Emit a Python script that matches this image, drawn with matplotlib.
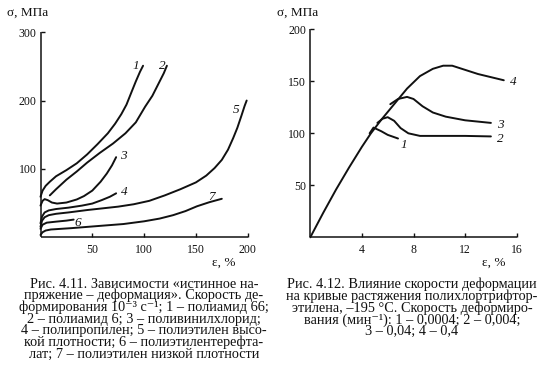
import matplotlib
matplotlib.use('Agg')
import matplotlib.pyplot as plt

plt.rcParams['font.family'] = ['Liberation Serif', 'DejaVu Serif']

# ---------------- data: Fig. 4.11 (true stress vs strain) ----------------
c1_x = [0, 2, 5, 9, 15, 25, 35, 45, 55, 65, 72, 78, 83, 88, 92, 96, 99]
c1_y = [59, 68, 75, 81, 89, 98, 108, 121, 136, 152, 166, 180, 194, 213, 228, 242, 251]
c2_x = [9, 15, 25, 35, 45, 57, 70, 82, 92, 101, 108, 114, 119, 122]
c2_y = [61, 70, 84, 96, 109, 123, 137, 152, 168, 191, 207, 225, 240, 251]
c3_x = [0, 2, 4, 7, 11, 16, 25, 35, 42, 50, 58, 64, 69, 73]
c3_y = [46, 53, 55.5, 54, 50.5, 49, 50.5, 55, 60, 68, 81, 93, 105, 117]
c4_x = [0, 1.5, 4, 8, 15, 27, 40, 50, 59, 67, 73]
c4_y = [20, 30, 36, 39, 41, 43, 46, 49, 54, 59, 64]
c5_x = [0, 1.5, 4, 8, 15, 27, 45, 60, 75, 90, 105, 120, 135, 150, 160, 168, 175, 181, 186, 190, 194, 197, 199]
c5_y = [15, 24, 29, 32, 34, 36, 39.5, 42, 44.5, 48, 53, 61, 70, 80, 90, 101, 113, 128, 145, 160, 178, 192, 200]
c6_x = [0, 2, 6, 15, 25, 32]
c6_y = [12, 18, 21, 22.5, 24, 25.5]
c7_x = [0, 2, 5, 10, 30, 59, 80, 100, 115, 128, 140, 151, 163, 175]
c7_y = [3, 7, 9.5, 11, 13, 16.5, 19, 23, 27, 32, 38, 45, 51, 56]
left_labels = ['1', '2', '3', '4', '5', '6', '7']
left_label_x = [92, 118, 79.5, 80.5, 189, 36, 165]
left_label_y = [251, 251, 119, 66.5, 186, 20.5, 58]
left_xticks = [50, 100, 150, 200]
left_yticks = [100, 200, 300]

# ---------------- data: Fig. 4.12 (strain-rate influence) ----------------
r4_x = [0, 1, 2, 3, 4, 4.7, 5.5, 6.5, 7.5, 8.5, 9.5, 10.3, 11, 12, 13, 14, 15]
r4_y = [0, 23.5, 46, 67, 87, 100, 113, 128, 143, 155, 162, 165, 165, 161, 157, 154, 151]
r1_x = [4.6, 4.9, 5.5, 6.0, 6.8]
r1_y = [100, 105.5, 102, 98.5, 95]
r2_x = [5.2, 5.6, 6.0, 6.5, 7.0, 7.6, 8.5, 10, 12, 14]
r2_y = [110, 114, 115.5, 112, 105, 100, 97.5, 97.5, 97.5, 97]
r3_x = [6.2, 6.8, 7.5, 8.0, 8.7, 9.5, 10.5, 12, 14]
r3_y = [128, 133, 135, 133, 126, 120, 116, 112.5, 110]
right_labels = ['1', '2', '3', '4']
right_label_x = [7.25, 14.7, 14.7, 15.7]
right_label_y = [88.5, 95, 108, 149.5]
right_xticks = [4, 8, 12, 16]
right_yticks = [50, 100, 150, 200]

cap_left = [
    "Рис. 4.11. Зависимости «истинное на-",
    "пряжение – деформация». Скорость де-",
    "формирования 10⁻³ с⁻¹; 1 – полиамид 66;",
    "2 – полиамид 6; 3 – поливинилхлорид;",
    "4 – полипропилен; 5 – полиэтилен высо-",
    "кой плотности; 6 – полиэтилентерефта-",
    "лат; 7 – полиэтилен низкой плотности",
]
cap_right = [
    "Рис. 4.12. Влияние скорости деформации",
    "на кривые растяжения полихлортрифтор-",
    "этилена, –195 °С. Скорость деформиро-",
    "вания (мин⁻¹): 1 – 0,0004; 2 – 0,004;",
    "3 – 0,04; 4 – 0,4",
]

W, H = 542, 390
fig = plt.figure(figsize=(W / 100, H / 100), dpi=100)
fig.patch.set_facecolor('white')

def rect(x0, x1, yb, yt):
    return [x0 / W, 1 - yb / H, (x1 - x0) / W, (yb - yt) / H]

ax1 = fig.add_axes(rect(40.5, 247.7, 237, 32.3))
ax2 = fig.add_axes(rect(310.3, 516.7, 237.3, 29.3))

col = '#111111'
for ax in (ax1, ax2):
    for s in ('top', 'right'):
        ax.spines[s].set_visible(False)
    for s in ('left', 'bottom'):
        ax.spines[s].set_linewidth(1.1)
        ax.spines[s].set_color(col)
        ax.spines[s].set_capstyle('butt')
    ax.tick_params(direction='in', length=3, width=1, colors=col,
                   labelsize=8.5)
    ax.tick_params(axis='x', pad=5)
    ax.tick_params(axis='y', pad=3)
    ax.set_facecolor('none')

lw = 1.4
for xs, ys in [(c1_x, c1_y), (c2_x, c2_y), (c3_x, c3_y), (c4_x, c4_y),
               (c5_x, c5_y), (c6_x, c6_y), (c7_x, c7_y)]:
    ax1.plot(xs, ys, color=col, lw=lw, solid_capstyle='round', clip_on=False)
ax1.set_xlim(0, 200)
ax1.set_ylim(0, 300)
ax1.set_xticks(left_xticks)
ax1.set_yticks(left_yticks)
for t, x, y in zip(left_labels, left_label_x, left_label_y):
    ax1.text(x, y, t, style='italic', fontsize=9.5, ha='center', va='center', color=col)

for xs, ys in [(r4_x, r4_y), (r1_x, r1_y), (r2_x, r2_y), (r3_x, r3_y)]:
    ax2.plot(xs, ys, color=col, lw=lw, solid_capstyle='round', clip_on=False)
ax2.set_xlim(0, 16)
ax2.set_ylim(0, 200)
ax2.set_xticks(right_xticks)
ax2.set_yticks(right_yticks)
for t, x, y in zip(right_labels, right_label_x, right_label_y):
    ax2.text(x, y, t, style='italic', fontsize=9.5, ha='center', va='center', color=col)

# axis titles
fig.text(7 / W, 1 - 16 / H, "σ, МПа", fontsize=9.5, ha='left', va='baseline', color=col)
fig.text(277 / W, 1 - 16 / H, "σ, МПа", fontsize=9.5, ha='left', va='baseline', color=col)
fig.text(212 / W, 1 - 265.5 / H, "ε, %", fontsize=9.5, ha='left', va='baseline', color=col)
fig.text(482 / W, 1 - 265.5 / H, "ε, %", fontsize=9.5, ha='left', va='baseline', color=col)

# captions (one multi-line text each, tight leading as in the book)
fig.text(144 / W, 1 - 277.5 / H, "\n".join(cap_left), fontsize=10.3,
         ha='center', va='top', multialignment='center',
         linespacing=0.85, color=col)
fig.text(412 / W, 1 - 277.5 / H, "\n".join(cap_right), fontsize=10.3,
         ha='center', va='top', multialignment='center',
         linespacing=0.85, color=col)

fig.savefig('out.png', dpi=100, facecolor='white')
